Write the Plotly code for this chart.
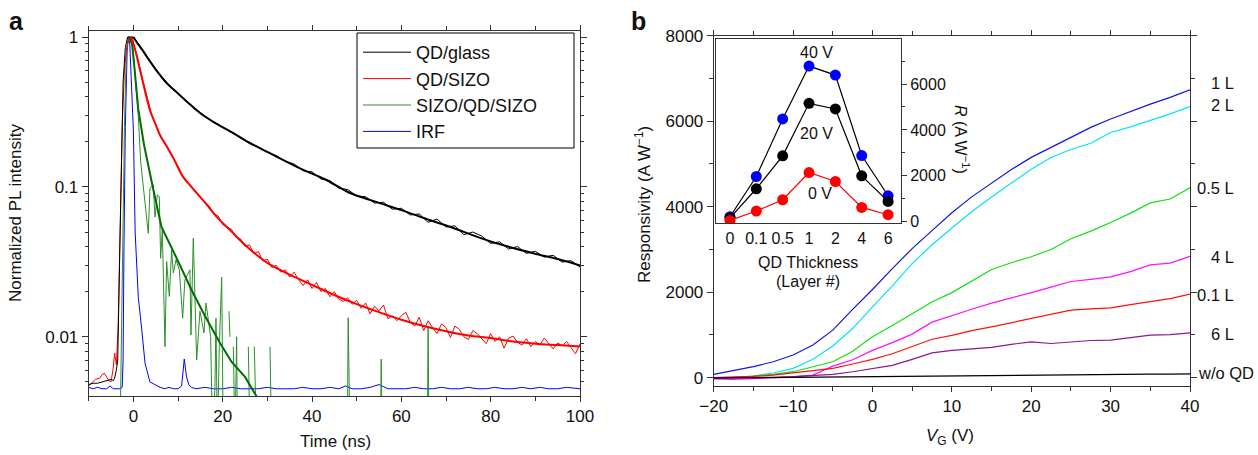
import plotly.graph_objects as go

FONT = "Liberation Sans, Arial, Helvetica, sans-serif"
W, H = 1258, 455

# ---------------- Panel a data ----------------
qdg_t = [-10, -9, -8, -7, -6, -5, -4.5, -4.2, -3.8, -3.5, -3.1, -2.8, -2.3, -1.8, -1.3, -0.6, 0] + list(range(2, 101, 2))
qdg_v = [0.0048, 0.0049, 0.0049, 0.0050, 0.0051, 0.0052, 0.0051, 0.0053, 0.0060, 0.007, 0.03, 0.1, 0.5, 0.85, 1.0, 1.0, 1.0,
         0.83, 0.665, 0.56, 0.48, 0.42, 0.37, 0.33, 0.297, 0.268, 0.25,
         0.23, 0.213, 0.195, 0.185, 0.17, 0.162, 0.148, 0.142, 0.128, 0.126,
         0.113, 0.110, 0.098, 0.096, 0.087, 0.086, 0.078, 0.079, 0.071, 0.072,
         0.065, 0.066, 0.058, 0.061, 0.054, 0.055, 0.048, 0.050, 0.047, 0.0420,
         0.0430, 0.0385, 0.0400, 0.0360, 0.0372, 0.0340, 0.0350, 0.0315, 0.0322, 0.0292]
qdg_fit_t = [0, 1, 1.5, 2, 3, 4, 5.5, 7.5, 10, 12, 15, 18.5, 22.4, 26, 30, 37.3, 43, 48.5, 54, 60, 65, 71, 80, 89.5, 95, 100]
qdg_fit_v = [1.0, 0.90, 0.86, 0.82, 0.74, 0.67, 0.58, 0.49, 0.42, 0.37, 0.31, 0.265, 0.228, 0.197, 0.171, 0.133, 0.112,
             0.091, 0.080, 0.070, 0.062, 0.054, 0.0432, 0.0361, 0.033, 0.0299]

sizo_t = [-10, -9, -8.5, -7.5, -7, -6.5, -6, -5.5, -5, -4.5, -4.2, -3.8, -3.4, -3.0, -2.5, -2.0, -1.5, -0.9, -0.5] + list(range(0, 101))
sizo_v = [0.0047, 0.0050, 0.0052, 0.0053, 0.0056, 0.0057, 0.0054, 0.0051, 0.0050, 0.0062, 0.0078, 0.0065, 0.012, 0.05, 0.25, 0.6, 0.85, 1.0, 0.97,
          0.90, 0.72, 0.53, 0.40, 0.31, 0.26, 0.22, 0.196, 0.174, 0.156,
          0.136, 0.119, 0.108, 0.101, 0.093, 0.086, 0.079, 0.074, 0.066, 0.064,
          0.056, 0.054, 0.052, 0.046, 0.045, 0.040, 0.041, 0.036, 0.037, 0.032,
          0.033, 0.029, 0.030, 0.027, 0.028, 0.025, 0.027, 0.024, 0.022, 0.024,
          0.021, 0.023, 0.020, 0.021, 0.0185, 0.020, 0.0178, 0.0172, 0.0182, 0.0165,
          0.0175, 0.0155, 0.0168, 0.0142, 0.0160, 0.0149, 0.0163, 0.0132, 0.0138, 0.0128,
          0.0138, 0.0146, 0.0125, 0.0118, 0.0135, 0.0110, 0.0128, 0.0115, 0.0105, 0.0122,
          0.0115, 0.0099, 0.0118, 0.0112, 0.0100, 0.0096, 0.0110, 0.0105, 0.0098, 0.0090,
          0.0105, 0.0093, 0.0100, 0.0084, 0.0098, 0.0101, 0.0092, 0.0088, 0.0097, 0.0086,
          0.0093, 0.0088, 0.0098, 0.0090, 0.0083, 0.0091, 0.0087, 0.0093, 0.0084, 0.0077,
          0.0090]
sizo_fit_t = [-0.4, 0.5, 1.5, 2.5, 3.7, 5, 6, 7.5, 9, 11.1, 13, 14.9, 16.8, 18.6, 21.6, 25, 30, 35, 40, 45, 50, 55, 60, 65, 70, 75, 80, 85, 90, 95, 100]
sizo_fit_v = [1.0, 0.8, 0.6, 0.45, 0.326, 0.26, 0.22, 0.186, 0.155, 0.117, 0.10, 0.086, 0.074, 0.0634, 0.0517, 0.041, 0.0311, 0.026,
              0.0222, 0.019, 0.0165, 0.0146, 0.013, 0.0118, 0.0109, 0.0102, 0.0098, 0.0093, 0.0090, 0.0088, 0.0086]

sqs_t = [-3.0, -2.5, -2.0, -1.6, -1.2, -0.6, 0.0, 0.6, 1.1, 1.63, 2.22, 2.97, 3.34, 3.72, 4.46, 4.84, 5.36, 5.81, 6.11, 6.48,
         7.08, 7.45, 8.05, 8.57, 8.94, 9.54, 10.29, 11.03, 11.55, 12.67, 12.9, 13.42, 14.17, 14.91, 15.81, 16.26, 17.3, 17.75,
         18.27, 18.5, 18.8, 19.24, 19.77, 20.14, 20.9, 21.4, 21.63, 22.0, 22.38, 22.75, 23.12, 23.3, 24.0, 25.74, 26.1, 26.5,
         27.08, 27.6, 28.0, 30.59, 30.96, 31.5, 47.9, 48.1, 48.5, 49.0, 55.3, 55.5, 55.7, 56.0, 65.8, 66.0, 66.2, 66.5]
sqs_v = [0.002, 0.03, 0.25, 0.75, 1.0, 1.0, 0.8, 0.45, 0.3, 0.148, 0.103, 0.063, 0.049, 0.098, 0.103, 0.063, 0.0885, 0.0862, 0.0334, 0.0517,
         0.0086, 0.0318, 0.0186, 0.038, 0.0266, 0.0326, 0.028, 0.0133, 0.024, 0.028, 0.0103, 0.0455, 0.007, 0.0148, 0.0106, 0.0168, 0.01, 0.002,
         0.0047, 0.0133, 0.002, 0.0086, 0.025, 0.002, None, 0.0148, 0.01, None, 0.0086, 0.002, 0.01, 0.002, None, 0.0086, 0.002, None,
         0.0086, 0.002, None, 0.0086, 0.002, None, 0.002, 0.0134, 0.002, None, 0.002, 0.0071, 0.002, None, 0.002, 0.0117, 0.002, None]
sqs_fit_t = [-1, -0.3, 0.3, 1.1, 2.4, 3.5, 4.5, 6.3, 8, 10, 13, 16, 19.4, 22, 25, 27.6, 29]
sqs_fit_v = [1.0, 0.9, 0.6, 0.33, 0.19, 0.13, 0.095, 0.054, 0.042, 0.032, 0.0206, 0.0138, 0.0091, 0.0068, 0.0054, 0.004, 0.0034]

irf_t = [-10, -9, -8, -7, -6, -5.2, -4.5, -4, -3, -2.5, -2.3, -2.1, -1.8, -1.4, -1.1, -0.8, -0.4, 0.0, 0.4, 1.1,
         1.9, 2.6, 3.7, 5.2, 6, 7, 8, 9, 10, 10.8, 11.4, 11.9, 12.4, 13, 14, 16, 18, 20, 22, 24,
         26, 28, 30, 32, 34, 36, 38, 40, 42, 44, 46, 47.5, 49, 51, 53, 55, 57, 59, 61, 63,
         65, 67, 69, 71, 73, 75, 77, 79, 81, 83, 85, 87, 89, 91, 93, 95, 97, 100]
irf_v = [0.0046, 0.0045, 0.0046, 0.0045, 0.0045, 0.0047, 0.0045, 0.0045, 0.0045, 0.0046,
         0.007, 0.04, 0.25, 0.8, 1.0, 0.9, 0.5, 0.24, 0.05, 0.0185,
         0.011, 0.0067, 0.005, 0.0047, 0.0046, 0.0045, 0.0046, 0.0045, 0.0045, 0.0047,
         0.0071, 0.0054, 0.0048, 0.0046, 0.0045, 0.0046, 0.0045, 0.0045, 0.0046, 0.0045,
         0.0045, 0.0045, 0.0046, 0.0045, 0.0045, 0.0045, 0.0046, 0.0045, 0.0045, 0.0046,
         0.0045, 0.0047, 0.0045, 0.0045, 0.0046, 0.0048, 0.0045, 0.0045, 0.0045, 0.0046,
         0.0045, 0.0045, 0.0046, 0.0045, 0.0045, 0.0046, 0.0045, 0.0045, 0.0046, 0.0045,
         0.0045, 0.0046, 0.0045, 0.0046, 0.0045, 0.0045, 0.0046, 0.0045]

# ---------------- Panel b data ----------------
vg = [-20, -17.5, -15, -12.5, -10, -7.5, -5, -2.5, 0, 2.5, 5, 7.5, 10, 12.5, 15, 17.5, 20, 22.5, 25, 27.5, 30, 32.5, 35, 37.5, 40]
r_1L = [80, 170, 260, 373, 530, 763, 1113, 1600, 2063, 2553, 3020, 3440, 3860, 4230, 4560, 4870, 5154, 5388, 5622, 5856, 6052, 6230, 6400, 6557, 6732]
r_2L = [-10, 0, 40, 110, 219, 430, 740, 1150, 1657, 2150, 2670, 3110, 3500, 3880, 4225, 4560, 4875, 5150, 5337, 5485, 5735, 5866, 6015, 6170, 6343]
r_05L = [0, 10, 40, 80, 140, 250, 373, 620, 957, 1220, 1500, 1770, 1990, 2270, 2530, 2690, 2830, 3000, 3250, 3430, 3630, 3850, 4090, 4180, 4444]
r_4L = [-30, -40, -20, 0, 20, 60, 270, 420, 640, 820, 1020, 1300, 1455, 1600, 1745, 1860, 1990, 2120, 2250, 2300, 2360, 2480, 2640, 2680, 2841]
r_01L = [0, 10, 30, 60, 110, 160, 219, 320, 430, 560, 730, 900, 990, 1100, 1190, 1290, 1390, 1480, 1580, 1610, 1634, 1710, 1774, 1850, 1954]
r_6L = [0, 0, 5, 10, 25, 45, 78, 140, 215, 290, 430, 580, 640, 680, 710, 780, 840, 800, 840, 870, 880, 940, 997, 1010, 1050]
r_noQD = [-10, -5, 0, 3, 5, 10, 15, 20, 25, 30, 35, 40, 45, 48, 52, 56, 60, 63, 66, 70, 74, 78, 82, 85, 88]

curve_labels = ["1 L", "2 L", "0.5 L", "4 L", "0.1 L", "6 L", "w/o QD"]

thick = ["0", "0.1", "0.5", "1", "2", "4", "6"]
R_40V = [217, 1970, 4478, 6783, 6391, 2884, 1130]
R_20V = [170, 1435, 2870, 5160, 4913, 2000, 883]
R_0V = [57, 465, 957, 2143, 1752, 622, 304]

fig = go.Figure()

# Panel a traces
fig.add_trace(go.Scatter(x=irf_t, y=irf_v, mode="lines", line=dict(color="#0000ff", width=1),
                         name="IRF", legendrank=4, xaxis="x", yaxis="y"))
fig.add_trace(go.Scatter(x=sqs_t, y=sqs_v, mode="lines", line=dict(color="#2a8f2a", width=1),
                         name="SIZO/QD/SIZO", legendrank=3, xaxis="x", yaxis="y"))
fig.add_trace(go.Scatter(x=sqs_fit_t, y=sqs_fit_v, mode="lines", line=dict(color="#006e00", width=2),
                         showlegend=False, xaxis="x", yaxis="y"))
fig.add_trace(go.Scatter(x=sizo_t, y=sizo_v, mode="lines", line=dict(color="#ff0000", width=1),
                         name="QD/SIZO", legendrank=2, xaxis="x", yaxis="y"))
fig.add_trace(go.Scatter(x=sizo_fit_t, y=sizo_fit_v, mode="lines", line=dict(color="#ff0000", width=2, shape="spline"),
                         showlegend=False, xaxis="x", yaxis="y"))
fig.add_trace(go.Scatter(x=qdg_t, y=qdg_v, mode="lines", line=dict(color="#000000", width=1),
                         name="QD/glass", legendrank=1, xaxis="x", yaxis="y"))
fig.add_trace(go.Scatter(x=qdg_fit_t, y=qdg_fit_v, mode="lines", line=dict(color="#000000", width=2, shape="spline"),
                         showlegend=False, xaxis="x", yaxis="y"))

# Panel b traces
curves = [(r_1L, "#1414e6"), (r_2L, "#00e6f0"), (r_05L, "#10e010"), (r_4L, "#ff10ff"),
          (r_01L, "#ff1010"), (r_6L, "#8a1a8a"), (r_noQD, "#000000")]
for (vals, col), lab in zip(curves, curve_labels):
    fig.add_trace(go.Scatter(x=vg, y=vals, mode="lines", line=dict(color=col, width=1.2),
                             name=lab, showlegend=False, xaxis="x2", yaxis="y2"))

# Inset traces
for vals, col, lcol in [(R_40V, "#0000ff", "#000000"), (R_20V, "#000000", "#000000"), (R_0V, "#ff0000", "#ff0000")]:
    fig.add_trace(go.Scatter(x=thick, y=vals, mode="lines+markers", line=dict(color=lcol, width=1.2),
                             marker=dict(color=col, size=11), showlegend=False, xaxis="x3", yaxis="y3"))

ax_common = dict(showline=True, linecolor="#333333", linewidth=1, mirror="ticks", ticks="outside",
                 tickcolor="#333333", showgrid=False, zeroline=False, automargin=False,
                 tickfont=dict(size=17, color="#111"))


def px(xp):
    return xp / W


def py(yp):
    return 1 - yp / H


decade_minor = [v * m for v in (0.001, 0.01, 0.1) for m in range(2, 10)]

fig.update_layout(
    template="none",
    width=W, height=H, margin=dict(l=0, r=0, t=0, b=0, pad=0, autoexpand=False),
    paper_bgcolor="white", plot_bgcolor="white",
    font=dict(family=FONT, size=17, color="#111"),
    showlegend=True,
    legend=dict(x=px(358), y=py(34), xanchor="left", yanchor="top", borderwidth=0,
                bgcolor="rgba(255,255,255,0)", font=dict(size=18), tracegroupgap=0, itemwidth=48),
    # frame around the legend (decoration only)
    shapes=[dict(type="rect", xref="paper", yref="paper", x0=px(357), x1=px(574), y0=py(148), y1=py(33),
                 line=dict(color="#000", width=1), fillcolor="white", layer="above")],
    xaxis=dict(domain=[px(88.7), px(580)], range=[-10, 100], tickvals=[0, 20, 40, 60, 80, 100], ticklen=5,
               minor=dict(tickvals=[-10, 10, 30, 50, 70, 90], ticklen=4, ticks="outside", tickcolor="#333333"),
               anchor="y", **ax_common),
    yaxis=dict(domain=[py(396), py(31)], type="log", range=[-2.395, 0.04], tickvals=[0.01, 0.1, 1],
               ticktext=["0.01", "0.1", "1"], ticklen=6,
               minor=dict(tickvals=decade_minor, ticklen=3, ticks="outside", tickcolor="#333333"),
               anchor="x", **ax_common),
    xaxis2=dict(domain=[px(713.7), px(1190)], range=[-20, 40], tickvals=[-20, -10, 0, 10, 20, 30, 40], ticklen=5,
                minor=dict(dtick=5, ticklen=4, ticks="outside", tickcolor="#333333"),
                anchor="y2", **ax_common),
    yaxis2=dict(domain=[py(385.7), py(35.7)], range=[-187, 8000], tickvals=[0, 2000, 4000, 6000, 8000], ticklen=6,
                minor=dict(dtick=1000, ticklen=4, ticks="outside", tickcolor="#333333"),
                anchor="x2", **ax_common),
    xaxis3=dict(domain=[px(716), px(901)], range=[-0.53, 6.49], type="category", showline=True, linecolor="#333333",
                mirror=True, ticks="", showgrid=False, zeroline=False, automargin=False,
                tickfont=dict(size=16, color="#111"), anchor="y3"),
    yaxis3=dict(domain=[py(223.3), py(39.3)], range=[-70, 7950], side="right", tickvals=[0, 2000, 4000, 6000],
                showline=True, linecolor="#333333", mirror=True, ticks="outside", ticklen=5, tickcolor="#333333",
                minor=dict(dtick=1000, ticklen=3, ticks="outside", tickcolor="#333333"),
                showgrid=False, zeroline=False, automargin=False,
                tickfont=dict(size=16, color="#111"), anchor="x3"),
)

ann = []


def add_text(x, y, text, size=17, xanchor="center", yanchor="middle", angle=0, bold=False):
    if bold:
        text = "<b>" + text + "</b>"
    ann.append(dict(x=px(x), y=py(y), xref="paper", yref="paper", text=text, showarrow=False,
                    xanchor=xanchor, yanchor=yanchor, textangle=angle, font=dict(size=size, color="#111")))


add_text(16, 21, "a", size=25, bold=True)
add_text(638, 21, "b", size=25, bold=True)
add_text(335, 441, "Time (ns)")
add_text(15, 213, "Normalized PL intensity", angle=-90)
add_text(950, 437, "<i>V</i><sub>G</sub> (V)")
add_text(643, 205, "Responsivity (A W<sup>−1</sup>)", angle=-90)
add_text(962, 140, "<i>R</i> (A W<sup>−1</sup>)", size=16, angle=90)
add_text(808, 262, "QD Thickness", size=16)
add_text(808, 281, "(Layer #)", size=16)
add_text(816, 52, "40 V", size=16)
add_text(816, 133, "20 V", size=16)
add_text(820, 193, "0 V", size=16)

label_y = [83.3, 105, 187.7, 257.3, 295, 334]
for lab, yy in zip(curve_labels[:6], label_y):
    add_text(1236, yy, lab, size=16.5, xanchor="right")
add_text(1196, 373.3, curve_labels[6], size=16.5, xanchor="left")

fig.update_layout(annotations=ann)
fig.write_html("out.html", config={"displayModeBar": False},
               post_script="document.body.style.margin='0px';document.body.style.overflow='hidden';")
